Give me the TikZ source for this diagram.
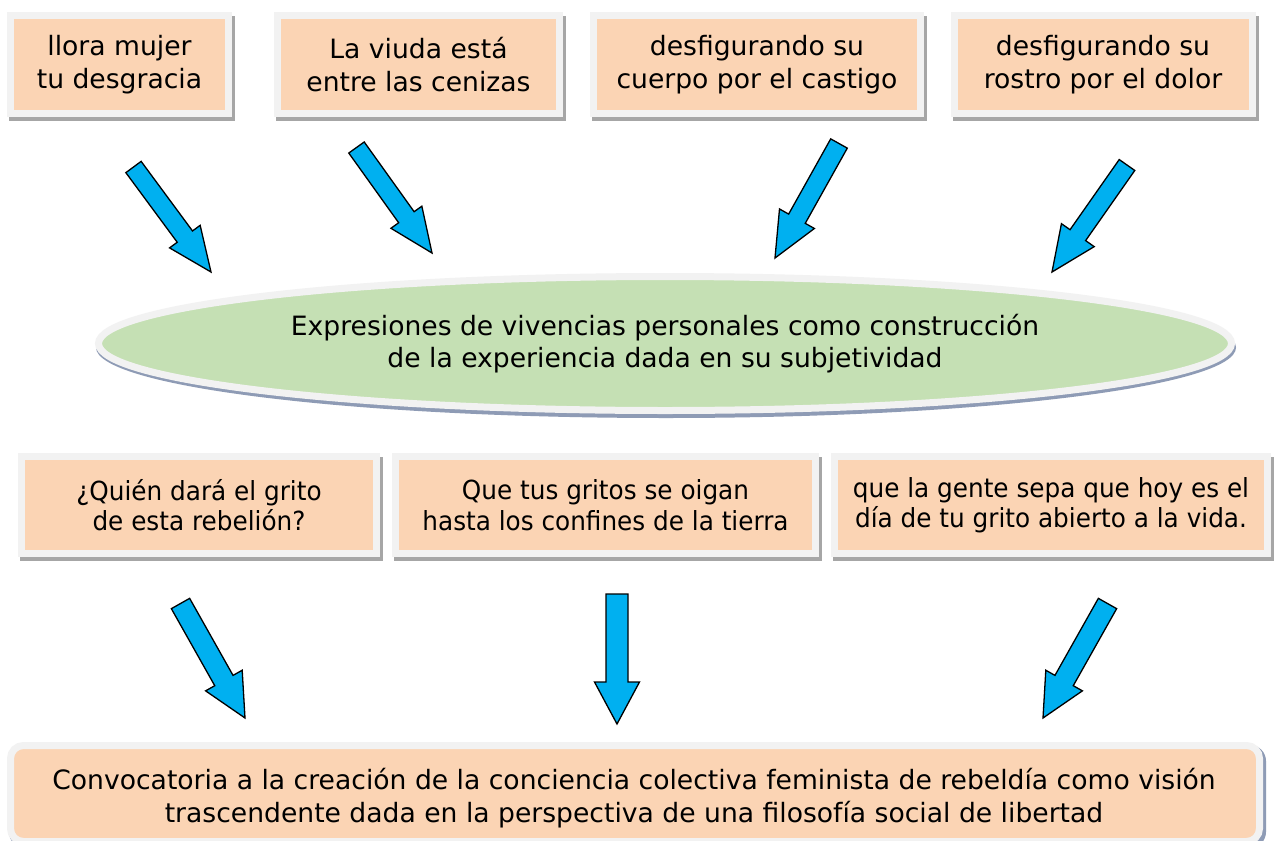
\documentclass[tikz,border=0pt]{standalone}
\usepackage{fontspec}
\setmainfont{DejaVu Sans}
\newfontfamily\condfont{DejaVu Sans}[FakeStretch=0.94]
\usetikzlibrary{calc,backgrounds,shapes.geometric}
\definecolor{peach}{HTML}{FBD4B4}
\definecolor{framec}{HTML}{F2F2F2}
\definecolor{shadowc}{HTML}{A6A6A6}
\definecolor{shadowb}{HTML}{8E9BB5}
\definecolor{greenc}{HTML}{C5E0B4}
\definecolor{arrowblue}{HTML}{00B0F0}
\newcommand\bigf{\fontsize{26.6pt}{32.5pt}\selectfont}
\newcommand\midf{\condfont\fontsize{26.3pt}{30.5pt}\selectfont}
\tikzset{
  topbox/.style={rectangle, fill=peach, draw=framec, line width=7pt, align=center, inner sep=0pt, font=\bigf},
  midbox/.style={topbox, font=\midf},
  ellbox/.style={ellipse, fill=greenc, draw=framec, line width=7pt, align=center, inner sep=0pt, font=\bigf},
  barrow/.style={fill=arrowblue, draw=black, line width=1.3pt, line join=miter},
}
\newcommand\blockarr[5]{%
  \coordinate (#2-n) at ($(#2)!#5pt!(#1)$);
  \draw[barrow] ($(#1)!#3pt!90:(#2)$) -- ($(#2-n)!#3pt!90:(#2)$) -- ($(#2-n)!#4pt!90:(#2)$) -- (#2)
     -- ($(#2-n)!#4pt!-90:(#2)$) -- ($(#2-n)!#3pt!-90:(#2)$) -- ($(#1)!#3pt!-90:(#2)$) -- cycle;}
\begin{document}
\begin{tikzpicture}[x=1pt,y=-1pt]
\useasboundingbox (0,0) rectangle (1278,841);
\clip (0,0) rectangle (1278,841);

% top row
\node[topbox, minimum width=218pt, minimum height=98pt] (b1) at (119.5,64.5) {llora mujer\\tu desgracia};
\node[topbox, minimum width=282pt, minimum height=98pt] (b2) at (418.5,64.5) {La viuda está\\entre las cenizas};
\node[topbox, minimum width=327pt, minimum height=98pt] (b3) at (757,64.5) {desfigurando su\\cuerpo por el castigo};
\node[topbox, minimum width=298pt, minimum height=98pt] (b4) at (1103,64.5) {desfigurando su\\rostro por el dolor};

% ellipse
\node[ellbox, minimum width=1133pt, minimum height=134pt] (ell) at (665,343.5) {Expresiones de vivencias personales como construcción\\de la experiencia dada en su subjetividad};

% middle row
\node[midbox, minimum width=355pt, minimum height=97pt] (m1) at (199,505) {¿Quién dará el grito\\de esta rebelión?};
\node[midbox, minimum width=420pt, minimum height=97pt] (m2) at (605.5,505) {Que tus gritos se oigan\\hasta los confines de la tierra};
\node[midbox, minimum width=433pt, minimum height=97pt] (m3) at (1051,505) {que la gente sepa que hoy es el\\día de tu grito abierto a la vida.};

% bottom box
\node[topbox, rounded corners=13pt, minimum width=1249pt, minimum height=96pt] (bb) at (635,793.5) {};
\node[font=\bigf, align=center, inner sep=0pt] (bt) at (634,798) {Convocatoria a la creación de la conciencia colectiva feminista de rebeldía como visión\\trascendente dada en la perspectiva de una filosofía social de libertad};

% arrows
\coordinate (a1t) at (133.5,167);  \coordinate (a1h) at (211,272);
\coordinate (a2t) at (356.5,147.5); \coordinate (a2h) at (432,253);
\coordinate (a3t) at (839,143.5);  \coordinate (a3h) at (775,258);
\coordinate (a4t) at (1127,165);   \coordinate (a4h) at (1052,272);
\coordinate (a5t) at (180.5,603.5); \coordinate (a5h) at (245,718);
\coordinate (a6t) at (617,594);    \coordinate (a6h) at (617,724);
\coordinate (a7t) at (1107.5,603.5); \coordinate (a7h) at (1043,718);
\blockarr{a1t}{a1h}{9.5}{19}{44}
\blockarr{a2t}{a2h}{9.5}{19}{44}
\blockarr{a3t}{a3h}{9.5}{20}{45}
\blockarr{a4t}{a4h}{9.5}{20}{45}
\blockarr{a5t}{a5h}{10.5}{21}{43}
\blockarr{a6t}{a6h}{11}{22.5}{42}
\blockarr{a7t}{a7h}{10.5}{21}{43}

\begin{scope}[on background layer]
  \fill[white] (0,0) rectangle (1278,841);
  \foreach \n in {b1,b2,b3,b4,m1,m2,m3}
    \fill[shadowc] ([shift={(2,4)}]\n.north west) rectangle ([shift={(3,4)}]\n.south east);
  \fill[shadowb] ([shift={(1,4)}]ell.center) ellipse [x radius=570pt, y radius=70.5pt];
  \fill[shadowb, rounded corners=16pt] ([shift={(2,3)}]bb.north west) rectangle ([shift={(3,3)}]bb.south east);
\end{scope}
\end{tikzpicture}
\end{document}
